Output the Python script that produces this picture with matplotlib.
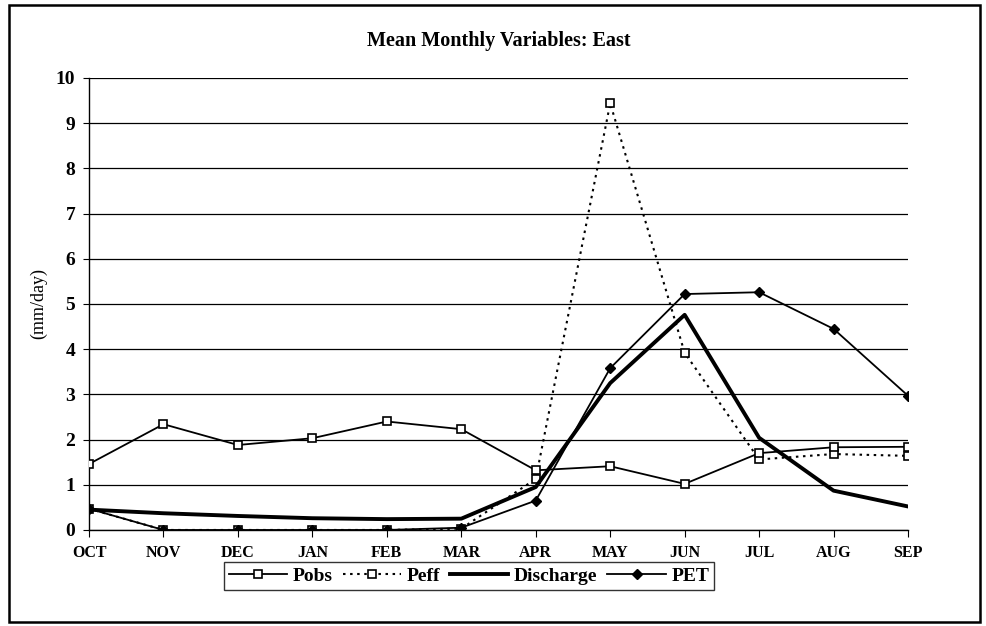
import matplotlib
matplotlib.use("Agg")
import matplotlib.pyplot as plt
from matplotlib.patches import Rectangle

months = ["OCT", "NOV", "DEC", "JAN", "FEB", "MAR", "APR", "MAY", "JUN", "JUL", "AUG", "SEP"]
pobs = [1.46, 2.34, 1.88, 2.03, 2.40, 2.23, 1.32, 1.41, 1.02, 1.70, 1.83, 1.84]
peff = [0.47, 0.0, 0.0, 0.0, 0.0, 0.03, 1.13, 9.44, 3.92, 1.56, 1.68, 1.64]
discharge = [0.45, 0.37, 0.31, 0.26, 0.24, 0.25, 0.95, 3.25, 4.76, 2.04, 0.87, 0.52]
pet = [0.47, 0.0, 0.0, 0.0, 0.0, 0.05, 0.65, 3.58, 5.22, 5.26, 4.45, 2.97]
yticks = list(range(0, 11))

plt.rcParams['font.family'] = ['Liberation Serif', 'DejaVu Serif']

fig = plt.figure(figsize=(9.86, 6.26), dpi=100)
ax = fig.add_axes([0.0903, 0.1534, 0.8306, 0.722])
x = list(range(len(months)))

ax.plot(x, pobs, color='black', lw=1.3, marker='s', ms=6, mfc='white', mec='black', mew=1.2, label='Pobs', zorder=4)
ax.plot(x, peff, color='black', lw=1.5, ls=(0, (1.2, 2.2)), marker='s', ms=6, mfc='white', mec='black', mew=1.2, label='Peff', zorder=3)
ax.plot(x, discharge, color='black', lw=2.8, label='Discharge', zorder=5)
ax.plot(x, pet, color='black', lw=1.3, marker='D', ms=5, mfc='black', mec='black', label='PET', zorder=6)

ax.set_xlim(0, len(months) - 1)
ax.set_ylim(0, 10)
ax.set_xticks(x)
ax.set_xticklabels(months, fontsize=11.5, fontweight='bold')
ax.set_yticks(yticks)
ax.set_yticklabels([str(v) for v in yticks], fontsize=14, fontweight='bold')
ax.yaxis.grid(True, color='black', lw=0.9)
ax.set_axisbelow(True)
for s in ['top', 'right']:
    ax.spines[s].set_visible(False)
ax.spines['left'].set_linewidth(1.0)
ax.spines['bottom'].set_linewidth(1.0)
ax.tick_params(axis='y', length=4, width=0.8, pad=6)
ax.tick_params(axis='x', direction='out', length=5, width=0.8, pad=6)
ax.set_ylabel('(mm/day)', fontsize=13, labelpad=6)
ax.set_title('Mean Monthly Variables: East', fontsize=14.5, fontweight='bold', pad=23)

leg = ax.legend(loc='upper center', bbox_to_anchor=(0.464, -0.05), ncol=4, frameon=True,
                fancybox=False, edgecolor='black', handlelength=3.0,
                columnspacing=0.5, handletextpad=0.3, borderpad=0.25,
                prop={'size': 14, 'weight': 'bold'})
leg.get_frame().set_linewidth(1.0)

fig.patches.append(Rectangle((0.009, 0.006), 0.985, 0.986, transform=fig.transFigure,
                             fill=False, edgecolor='black', lw=1.8))

fig.savefig('out.png', dpi=100)
